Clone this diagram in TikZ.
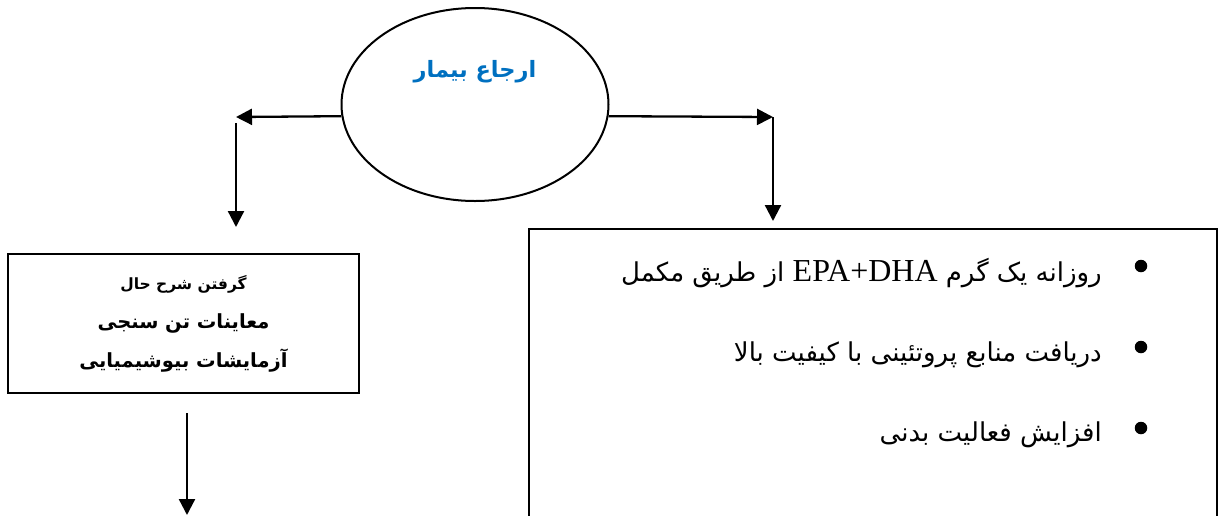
\documentclass[tikz,border=0pt]{standalone}
\usepackage{fontspec}
\setmainfont{Liberation Serif}
\newfontfamily\arabicfont[Script=Arabic]{DejaVu Sans}
\TeXXeTstate=1
\usetikzlibrary{positioning}
\usetikzlibrary{calc}
\usetikzlibrary{shapes}
\usetikzlibrary{arrows.meta}
\definecolor{referralblue}{RGB}{0,112,192}
\tikzset{>={Triangle[length=16pt,width=16pt]}}
\tikzset{link/.style={->, line width=2.3pt}}
\tikzset{referral/.style={ellipse, draw, line width=2pt, minimum width=267pt, minimum height=193pt}}
\tikzset{heading/.style={font=\arabicfont\bfseries\fontsize{22.5}{26}\selectfont, text=referralblue}}
\tikzset{assess/.style={rectangle, draw, line width=2pt, minimum width=351pt, minimum height=139pt, align=center, font=\arabicfont\bfseries\fontsize{19.5}{39}\selectfont}}
\tikzset{advice/.style={rectangle, draw, line width=2pt, minimum width=688pt, minimum height=340pt}}
\tikzset{item/.style={anchor=base east, inner sep=0pt, font=\arabicfont\fontsize{26}{30}\selectfont}}
\tikzset{bullet/.style={circle, fill, inner sep=0pt, minimum size=12.5pt}}

\begin{document}
\begin{tikzpicture}[x=1pt, y=-1pt]

    \useasboundingbox (0,0) rectangle (1224,515);
    \clip (0,0) rectangle (1224,515);

    % Patient referral.
    \node [referral] (referral) at (475,104.5) {};
    \node [heading] (title) at ($(referral.center) + (0,-33)$) {\beginR ارجاع بیمار\endR};

    % History and tests.
    \node [assess] (assess) at (183.5,323.5) {{\fontsize{15.5}{39}\selectfont\beginR گرفتن شرح حال\endR}\\
        \beginR معاینات تن سنجی\endR\\
        \beginR آزمایشات بیوشیمیایی\endR};

    % Advice list.
    \node [advice] (advice) at (873,399) {};
    \node [item] (item1) at (1102,281) {\beginR روزانه یک گرم {\rmfamily\fontsize{32}{34}\selectfont\beginL EPA+DHA\endL} از طریق مکمل\endR};
    \node [item] (item2) at (1102,361) {\beginR دریافت منابع پروتئینی با کیفیت بالا\endR};
    \node [item] (item3) at (1102,441) {\beginR افزایش فعالیت بدنی\endR};
    \foreach \y/\n in {266/1,347/2,428/3}
        \node [bullet] (dot\n) at (1141,\y) {};

    % Coordinates for the free ends.
    \coordinate (lcorner) at (236,117);
    \coordinate (ldrop) at (236,123);
    \coordinate (ltip) at (236,227);
    \coordinate (rcorner) at (773,117);
    \coordinate (rtip) at (773,221);
    \coordinate (bstart) at ($(assess.south) + (3.5,19)$);
    \coordinate (btip) at (187,515);

    % Arrows out of the referral.
    \draw [link] (referral.185) -- (lcorner);
    \draw [link] (ldrop) -- (ltip);
    \draw [link] (referral.-5) -- (rcorner);
    \draw [link] (rcorner) -- (rtip);

    % Arrow below the tests.
    \draw [link] (bstart) -- (btip);

\end{tikzpicture}
\end{document}
